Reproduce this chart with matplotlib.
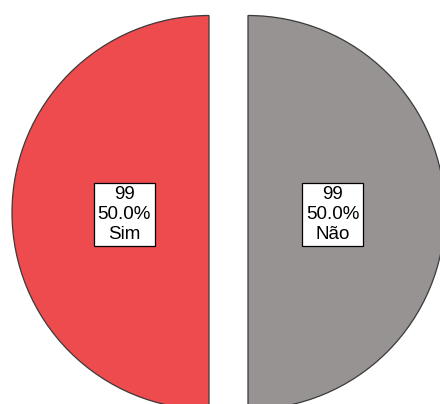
import numpy as np
import matplotlib
matplotlib.use("Agg")
import matplotlib.pyplot as plt
from matplotlib import font_manager

categories = ["Sim", "Não"]
counts = [99, 99]
colors = ["#EE4B4E", "#979392"]

installed = {f.name for f in font_manager.fontManager.ttflist}
label_family = "Liberation Sans Narrow" if "Liberation Sans Narrow" in installed else "Liberation Sans"

W, H = 440, 404
fig = plt.figure(figsize=(W / 100, H / 100), dpi=100)
ax = fig.add_axes([0, 0, 1, 1])

radius = 197
center = (228.5, 191.5)
gap = 19.5

# explode offsets are in data units here (pie adds them to the centre directly)
wedges, _ = ax.pie(
    counts,
    colors=colors,
    startangle=90,
    counterclock=True,
    radius=radius,
    center=center,
    explode=[gap] * len(counts),
    wedgeprops=dict(edgecolor="#3a3a3a", linewidth=0.9),
    frame=True,
)
ax.set_xlim(0, W)
ax.set_ylim(0, H)
ax.set_aspect("auto")
ax.axis("off")

total = sum(counts)
for w, cat, n in zip(wedges, categories, counts):
    mid = np.deg2rad((w.theta1 + w.theta2) / 2)
    cx, cy = w.center
    tx = cx + 0.43 * w.r * np.cos(mid)
    ty = cy + 0.43 * w.r * np.sin(mid) - 2
    ax.text(
        tx, ty, f"{n}\n{100 * n / total:.1f}%\n{cat}",
        ha="center", va="center", multialignment="center",
        fontsize=13.5, family=label_family, linespacing=1.2,
        bbox=dict(boxstyle="square,pad=0.2", facecolor="white",
                  edgecolor="black", linewidth=0.9),
    )

fig.savefig("out.png", dpi=100)
